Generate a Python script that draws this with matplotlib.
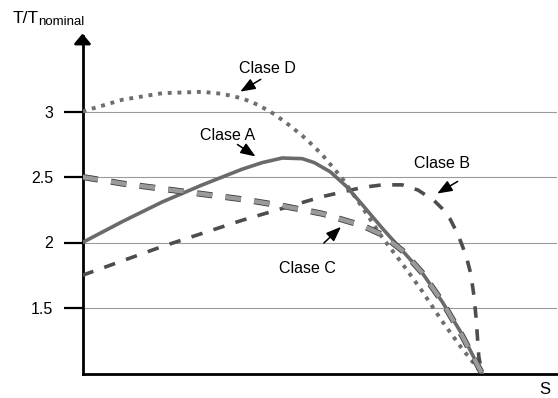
import matplotlib.pyplot as plt
import matplotlib.patheffects as pe

plt.rcParams['font.family'] = ['Liberation Sans', 'DejaVu Sans']

# slip axis: 0 at the torque axis, 1 where all the curves meet
s_a = [0.0, 0.1, 0.2, 0.3, 0.4, 0.45, 0.5, 0.55, 0.58, 0.62, 0.66, 0.7, 0.75, 0.8, 0.85, 0.9, 0.95, 1.0]
t_a = [2.0, 2.16, 2.31, 2.44, 2.56, 2.61, 2.645, 2.64, 2.61, 2.54, 2.43, 2.29, 2.11, 1.94, 1.77, 1.55, 1.30, 1.0]

s_b = [0.0, 0.1, 0.2, 0.3, 0.4, 0.5, 0.6, 0.7, 0.75, 0.8, 0.84, 0.88, 0.9, 0.92, 0.94, 0.96, 0.972, 0.98, 0.985, 0.992, 1.0]
t_b = [1.75, 1.86, 1.97, 2.07, 2.17, 2.26, 2.35, 2.42, 2.44, 2.44, 2.40, 2.32, 2.26, 2.18, 2.06, 1.90, 1.76, 1.59, 1.43, 1.13, 1.0]

s_c = [0.0, 0.1, 0.2, 0.3, 0.4, 0.5, 0.6, 0.7, 0.75, 0.8, 0.85, 0.9, 0.95, 1.0]
t_c = [2.50, 2.45, 2.41, 2.37, 2.33, 2.28, 2.22, 2.13, 2.06, 1.94, 1.77, 1.55, 1.29, 1.0]

s_d = [0.0, 0.1, 0.2, 0.3, 0.35, 0.4, 0.44, 0.48, 0.52, 0.56, 0.6, 0.65, 0.7, 0.75, 0.8, 0.85, 0.9, 0.95, 1.0]
t_d = [3.0, 3.09, 3.14, 3.15, 3.135, 3.10, 3.05, 2.98, 2.89, 2.79, 2.67, 2.49, 2.27, 2.04, 1.84, 1.63, 1.40, 1.19, 1.0]

yticks = [1.5, 2, 2.5, 3]
ytick_labels = ['1.5', '2', '2.5', '3']

W, H = 558, 398
fig = plt.figure(figsize=(W / 100, H / 100), dpi=100)

# axes placed in pixels: torque axis at x=82.5, T=1 at y=373.5, 131 px per unit
x0, y1, x_end, y_top = 82.5, 373.5, 557, 36
ax = fig.add_axes([x0 / W, (H - y1) / H, (x_end - x0) / W, (y1 - y_top) / H])
ax.set_xlim(0, (x_end - x0) / 399.5)
ax.set_ylim(1, 1 + (y1 - y_top) / 131)
xmax = ax.get_xlim()[1]
ymax = ax.get_ylim()[1]

for side in ['top', 'right']:
    ax.spines[side].set_visible(False)
ax.spines['left'].set_linewidth(2)
ax.spines['bottom'].set_linewidth(2)
ax.set_xticks([])
ax.set_yticks(yticks)
ax.set_yticklabels(ytick_labels)
ax.tick_params(axis='y', direction='out', length=14, width=1.6, pad=7, labelsize=11.5)

ax.hlines(yticks, 0, xmax, color='#9a9a9a', lw=0.8, zorder=1)

# arrow head on the torque axis
ax.annotate('', xy=(0, ymax + 0.04), xytext=(0, ymax - 0.06), annotation_clip=False,
            arrowprops=dict(arrowstyle='-|>,head_length=0.6,head_width=0.5', color='k', lw=2))

ax.plot(s_d, t_d, color='#6e6e6e', lw=2.8, linestyle=(0, (1, 1.5)), zorder=3)
ax.plot(s_b, t_b, color='#4d4d4d', lw=2.6, linestyle=(0, (3.2, 3.2)), zorder=3)
ax.plot(s_a, t_a, color='#6a6a6a', lw=2.6, solid_capstyle='round', solid_joinstyle='round', zorder=4)
ax.plot(s_c, t_c, color='#9a9a9a', lw=3.2, linestyle=(0, (3.5, 3.0)), zorder=5,
        path_effects=[pe.Stroke(linewidth=4.4, foreground='#3c3c3c'), pe.Normal()])

arrow = dict(arrowstyle='-|>,head_length=0.9,head_width=0.35', color='k', lw=1.1)
labels = [
    ('Clase D', (0.464, 3.332), (0.452, 3.256), (0.389, 3.141)),
    ('Clase A', (0.364, 2.813), (0.382, 2.760), (0.439, 2.645)),
    ('Clase B', (0.900, 2.600), (0.945, 2.477), (0.882, 2.363)),
    ('Clase C', (0.562, 1.805), (0.599, 1.981), (0.652, 2.134)),
]
for name, pos, start, tip in labels:
    ax.text(pos[0], pos[1], name, fontsize=11.5, ha='center', va='center')
    ax.annotate('', xy=tip, xytext=start, arrowprops=arrow, annotation_clip=False)

fig.text(12.5 / W, 1 - 23 / H, 'T/T', fontsize=12.5, va='baseline', ha='left')
fig.text(38 / W, 1 - 25 / H, 'nominal', fontsize=9.5, va='baseline', ha='left')
fig.text(545 / W, 1 - 390 / H, 'S', fontsize=12, va='center', ha='center')

fig.savefig('out.png', dpi=100)
